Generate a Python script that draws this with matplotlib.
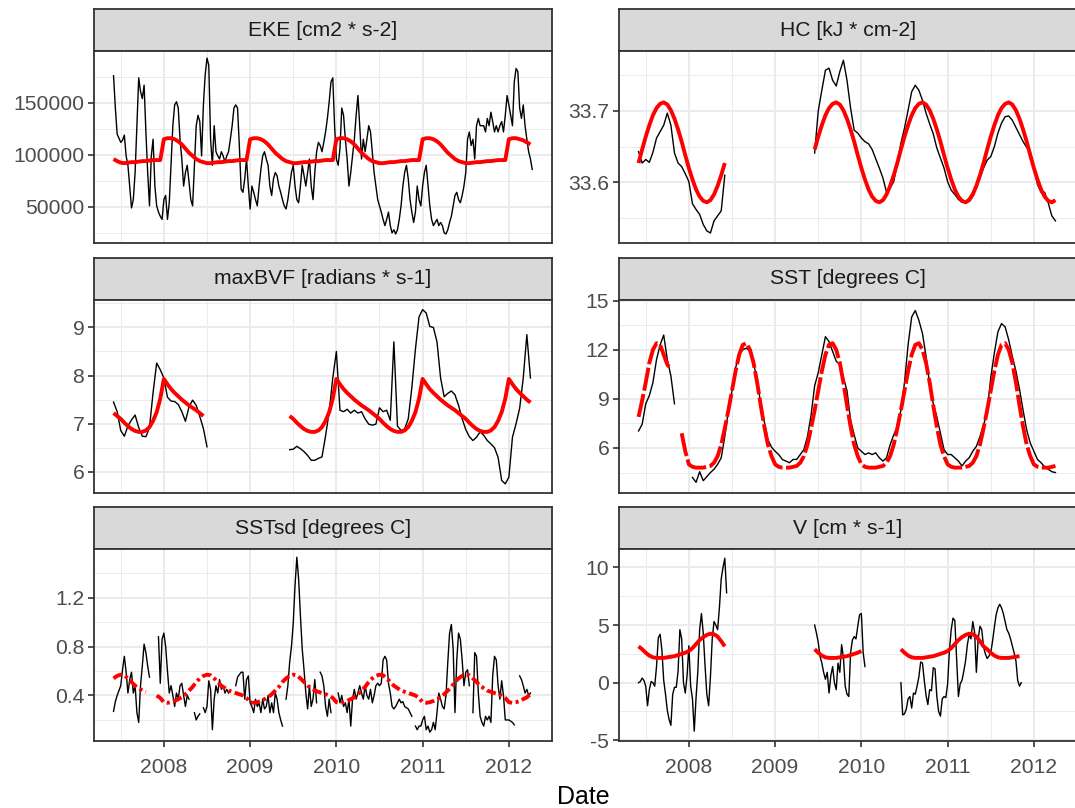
import numpy as np
import matplotlib.pyplot as plt

plt.rcParams['font.family'] = ['Liberation Sans', 'DejaVu Sans']
plt.rcParams['axes.unicode_minus'] = False

nan = np.nan
T0 = 2007 + 10 / 24  # first composite, early June 2007 (decimal year)

years = [2008, 2009, 2010, 2011, 2012]
half_years = [2007.5, 2008.5, 2009.5, 2010.5, 2011.5]

# ---------------------------------------------------------------------------
# EKE [cm2 * s-2]  (thousands) - weekly obs, half-monthly seasonal fit
eke_obs = [
    176, 145, 120, 116, 112, 114, 119, 99, 90, 70,
    49, 57, 83, 128, 174, 161, 154, 167, 122, 83,
    51, 99, 115, 70, 51, 45, 41, 38, 57, 61,
    38, 54, 90, 128, 148, 151, 145, 115, 96, 70,
    83, 90, 74, 57, 51, 90, 128, 138, 132, 99,
    148, 177, 193, 186, 115, 90, 128, 103, 99, 96,
    103, 99, 93, 99, 103, 115, 128, 145, 148, 145,
    109, 67, 64, 77, 96, 70, 48, 70, 64, 57,
    51, 70, 86, 99, 103, 96, 90, 70, 61, 77,
    83, 80, 70, 64, 57, 51, 48, 57, 70, 83,
    90, 70, 57, 54, 70, 90, 80, 70, 83, 96,
    70, 57, 83, 103, 112, 109, 103, 112, 122, 135,
    151, 170, 174, 128, 96, 90, 106, 145, 138, 115,
    96, 70, 83, 99, 115, 138, 157, 128, 96, 115,
    103, 115, 128, 122, 103, 83, 70, 57, 51, 45,
    38, 32, 38, 45, 32, 25, 28, 24, 28, 38,
    51, 70, 83, 90, 77, 57, 45, 35, 45, 70,
    57, 51, 70, 83, 90, 70, 51, 38, 32, 35,
    38, 32, 35, 32, 25, 24, 28, 35, 41, 51,
    61, 64, 57, 54, 61, 70, 83, 115, 122, 109,
    115, 96, 128, 135, 128, 128, 128, 122, 135, 128,
    141, 132, 122, 128, 122, 128, 132, 122, 138, 157,
    148, 138, 128, 170, 183, 180, 145, 135, 148, 128,
    115, 103, 96, 86,
]
eke_fit = [
    96, 94, 92.5, 92, 92.5, 93, 93, 93.5, 94, 94, 94.5, 95, 95, 95,
    115, 116, 116, 115, 113, 110, 106, 102, 99, 96, 94, 93,
    92, 92, 92.5, 93, 93, 93.5, 94, 94, 94.5, 95, 95, 95,
    115, 116, 116, 115, 113, 110, 106, 102, 99, 96, 94, 93,
    92, 92, 92.5, 93, 93, 93.5, 94, 94, 94.5, 95, 95, 95,
    115, 116, 116, 115, 113, 110, 106, 102, 99, 96, 94, 93,
    92, 92, 92.5, 93, 93, 93.5, 94, 94, 94.5, 95, 95, 95,
    115, 116, 116, 115, 113, 110, 106, 102, 99, 96, 94, 93,
    92, 92, 92.5, 93, 93, 93.5, 94, 94, 94.5, 95, 95, 95,
    115, 116, 116, 115, 114, 112, 110,
]

# HC [kJ * cm-2] - half-monthly
hc_obs = [
    33.643, 33.627, 33.632, 33.628, 33.642, 33.662, 33.671, 33.680, 33.697, 33.680,
    33.641, 33.627, 33.622, 33.612, 33.601, 33.570, 33.562, 33.555, 33.541, 33.532,
    33.529, 33.546, 33.553, 33.560, 33.610,
] + [nan] * 24 + [
    33.641, 33.700, 33.729, 33.757, 33.760, 33.743, 33.735, 33.755, 33.771, 33.743,
    33.704, 33.673, 33.669, 33.662, 33.657, 33.654, 33.646, 33.633, 33.620, 33.606,
    33.586, 33.592, 33.601, 33.627, 33.655, 33.676, 33.701, 33.727, 33.736, 33.729,
    33.715, 33.697, 33.682, 33.668, 33.648, 33.634, 33.620, 33.601, 33.589, 33.583,
    33.576, 33.572, 33.573, 33.578, 33.586, 33.594, 33.606, 33.620, 33.631, 33.636,
    33.650, 33.669, 33.683, 33.692, 33.693, 33.687, 33.677, 33.667, 33.657, 33.649,
    33.643, 33.622, 33.597, 33.586, 33.586, 33.571, 33.553, 33.546,
]
hc_fit = [
    33.627, 33.646, 33.664, 33.680, 33.694, 33.704, 33.710, 33.712, 33.709, 33.701,
    33.689, 33.674, 33.657, 33.638,
    33.620, 33.604, 33.590, 33.580, 33.574, 33.572, 33.575, 33.583, 33.595, 33.610,
    33.627,
] + [nan] * 24 + [
    33.646, 33.664, 33.680, 33.694, 33.704, 33.710, 33.712, 33.709, 33.701, 33.689,
    33.674, 33.657, 33.638,
    33.620, 33.604, 33.590, 33.580, 33.574, 33.572, 33.575, 33.583, 33.595, 33.610,
    33.627, 33.646, 33.664, 33.680, 33.694, 33.704, 33.710, 33.712, 33.709, 33.701,
    33.689, 33.674, 33.657, 33.638,
    33.620, 33.604, 33.590, 33.580, 33.574, 33.572, 33.575, 33.583, 33.595, 33.610,
    33.627, 33.646, 33.664, 33.680, 33.694, 33.704, 33.710, 33.712, 33.709, 33.701,
    33.689, 33.674, 33.657, 33.638,
    33.620, 33.604, 33.590, 33.580, 33.574, 33.572, 33.575,
]

# maxBVF [radians * s-1] - half-monthly
bvf_obs = [
    7.45, 7.25, 6.86, 6.74, 6.95, 7.08, 7.18, 6.92, 6.74, 6.73,
    6.92, 7.65, 8.26, 8.12, 7.95, 7.55, 7.47, 7.46, 7.40, 7.25,
    7.05, 7.35, 7.49, 7.38, 7.15, 6.90, 6.52,
] + [nan] * 22 + [
    6.46, 6.47, 6.53, 6.48, 6.42, 6.34, 6.24, 6.24, 6.28, 6.31,
    6.75, 7.25, 7.95, 8.50, 7.28, 7.25, 7.30, 7.22, 7.28, 7.22,
    7.25, 7.10, 6.99, 6.97, 6.99, 7.33, 7.25, 7.28, 7.07, 8.70,
    6.95, 6.86, 6.89, 7.10, 7.75, 8.55, 9.22, 9.37, 9.30, 9.02,
    9.00, 8.70, 7.95, 7.56, 7.63, 7.68, 7.60, 7.38, 7.10, 6.88,
    6.73, 6.65, 6.72, 6.83, 6.76, 6.65, 6.58, 6.50, 6.30, 5.82,
    5.75, 5.89, 6.72, 7.00, 7.32, 7.95, 8.85, 7.95,
]
bvf_fit = [
    7.22, 7.16, 7.10, 7.02, 6.95, 6.89, 6.85, 6.83, 6.83, 6.86, 6.93, 7.06, 7.24, 7.52,
    7.93, 7.82, 7.72, 7.64, 7.57, 7.50, 7.44, 7.38, 7.33, 7.28, 7.22, 7.16,
] + [nan] * 23 + [
    7.16, 7.10, 7.02, 6.95, 6.89, 6.85, 6.83, 6.83, 6.86, 6.93, 7.06, 7.24, 7.52,
    7.93, 7.82, 7.72, 7.64, 7.57, 7.50, 7.44, 7.38, 7.33, 7.28, 7.22, 7.16,
    7.10, 7.02, 6.95, 6.89, 6.85, 6.83, 6.83, 6.86, 6.93, 7.06, 7.24, 7.52,
    7.93, 7.82, 7.72, 7.64, 7.57, 7.50, 7.44, 7.38, 7.33, 7.28, 7.22, 7.16,
    7.10, 7.02, 6.95, 6.89, 6.85, 6.83, 6.83, 6.86, 6.93, 7.06, 7.24, 7.52,
    7.93, 7.82, 7.72, 7.64, 7.57, 7.50, 7.44,
]

# SST [degrees C] - half-monthly
sst_obs = [
    7.04, 7.45, 8.7, 9.2, 10.0, 11.4, 12.3, 12.9, 11.4, 10.4, 8.7,
    nan, nan, nan, nan,
    4.2, 3.9, 4.55, 4.0, 4.25, 4.5, 4.7, 5.0, 5.4, 6.7,
    8.3, 9.5, 10.9, 11.7, 12.0, 12.1, 11.9, 11.2, 10.1, 8.7,
    7.6, 6.5, 6.05, 5.8, 5.6, 5.3, 5.2, 5.1, 5.3, 5.3,
    5.6, 5.9, 6.7, 8.0, 9.8, 10.6, 11.7, 12.8, 12.5, 11.9,
    11.3, 11.1, 10.3, 9.5, 7.7, 6.8, 6.0, 5.8, 5.6, 5.7,
    5.6, 5.7, 5.4, 5.2, 5.4, 6.2, 6.8, 7.3, 8.3, 10.0,
    12.3, 14.0, 14.4, 13.8, 13.0, 11.6, 9.9, 8.7, 7.9, 6.9,
    5.9, 5.6, 5.6, 5.4, 5.2, 4.9, 5.2, 5.4, 5.8, 6.1,
    6.7, 7.4, 8.2, 10.3, 11.8, 13.1, 13.6, 13.4, 12.6, 11.6,
    10.7, 9.6, 8.3, 7.1, 6.3, 5.8, 5.3, 5.1, 4.85, 4.7, 4.55, 4.5,
]
sst_fit = [
    7.9, 8.9, 10.0, 11.2, 12.0, 12.4, 12.3, 11.7, 11.1, 10.8,
    nan, nan, 6.9, 5.8,
    5.0, 4.85, 4.8, 4.8, 4.8, 4.85, 4.9, 5.1, 5.5, 6.2, 7.2, 8.3,
    9.5, 10.7, 11.7, 12.3, 12.4, 12.0, 11.2, 10.0, 8.6, 7.3, 6.2, 5.5,
    5.0, 4.85, 4.8, 4.8, 4.8, 4.85, 4.9, 5.1, 5.5, 6.2, 7.2, 8.3,
    9.5, 10.7, 11.7, 12.3, 12.4, 12.0, 11.2, 10.0, 8.6, 7.3, 6.2, 5.5,
    5.0, 4.85, 4.8, 4.8, 4.8, 4.85, 4.9, 5.1, 5.5, 6.2, 7.2, 8.3,
    9.5, 10.7, 11.7, 12.3, 12.4, 12.0, 11.2, 10.0, 8.6, 7.3, 6.2, 5.5,
    5.0, 4.85, 4.8, 4.8, 4.8, 4.85, 4.9, 5.1, 5.5, 6.2, 7.2, 8.3,
    9.5, 10.7, 11.7, 12.3, 12.4, 12.0, 11.2, 10.0, 8.6, 7.3, 6.2, 5.5,
    5.0, 4.85, 4.8, 4.8, 4.8, 4.85, 4.9,
]

# SSTsd [degrees C] - weekly obs, half-monthly fit
sstsd_obs = [
    .27, .35, .40, .44, .48, .61, .72, .59, .42, .53,
    .59, .42, .48, .26, .18, .48, .64, .82, .75, .64,
    .55, nan, nan, nan, nan, .88, .50, .86, .91, .80,
    .60, .42, .48, .40, .31, .42, .37, .48, .50, .40,
    .31, .40, .37, nan, nan, .26, .20, .23, .25, nan,
    .30, .26, .31, .52, .45, .12, .37, .48, .42, .53,
    .45, .48, .42, .45, .42, nan, nan, nan, .48, .55,
    .57, .59, .59, .37, .53, .56, .34, .31, .26, .37,
    .31, .34, .26, .37, .29, .31, .40, .26, .34, .26,
    .42, .37, .26, .20, .15, nan, .37, .48, .67, .80,
    .99, 1.30, 1.53, 1.35, 1.05, .78, .61, .42, .29, .48,
    .31, .37, .53, .34, nan, .59, .56, .48, .31, .23,
    .37, .26, nan, nan, nan, .42, .34, .40, .31, .34,
    .26, .37, .15, .37, .45, .37, .42, .48, .42, .37,
    .48, .40, .37, .45, .34, .40, .48, .50, .48, .50,
    .69, .72, .69, .50, .42, .31, .29, .31, .34, .37,
    .34, .35, .31, .30, .29, .26, .23, nan, .15, .12,
    .15, .15, .20, .23, .12, .15, .10, .12, .18, .12,
    .26, .42, .37, .31, .29, .40, .67, .91, .98, .78,
    .26, .69, .91, .86, .69, .48, .59, .61, .48, nan,
    .26, .75, .72, .42, .23, .18, .15, .23, .20, .23,
    .18, .56, .72, .69, .48, .37, .52, .40, .20, .20,
    .20, .19, .18, .16, nan, nan, .56, .53, .48, .42,
    .45, .40, .42,
]
sstsd_fit = [
    .54, .56, .57, .565, .54, .51, .48, .46, .44, .43,
    nan, nan, .40, .38,
    .345, .34, .345, .355, .37, .385, .41, .44, .47, .51, .54, .56,
    .57, .565, .54, .51, .48, .46, .44, .43, .42, .41, .40, .38,
    .345, .34, .345, .355, .37, .385, .41, .44, .47, .51, .54, .56,
    .57, .565, .54, .51, .48, .46, .44, .43, .42, .41, .40, .38,
    .345, .34, .345, .355, .37, .385, .41, .44, .47, .51, .54, .56,
    .57, .565, .54, .51, .48, .46, .44, .43, .42, .41, .40, .38,
    .345, .34, .345, .355, .37, .385, .41, .44, .47, .51, .54, .56,
    .57, .565, .54, .51, .48, .46, .44, .43, .42, .41, .40, .38,
    .345, .34, .345, .355, .37, .385, .41,
]

# V [cm * s-1] - weekly obs, half-monthly fit
v_obs = [
    0.0, 0.1, 0.4, 0.2, -0.3, -2.0, -0.6, 0.1, 0.0, -0.3,
    1.4, 3.9, 4.2, 2.8, 0.2, -1.0, -2.4, -3.2, -3.7, -1.0,
    -0.4, -0.4, 1.0, 4.6, 3.8, 0.0, -0.9, 0.6, 3.2, -0.3,
    -1.4, -4.2, -1.3, 1.0, 4.6, 6.0, 4.3, 1.5, -1.0, -2.0,
    0.5, 3.8, 5.3, 5.0, 4.6, 6.5, 9.0, 10.0, 10.8, 7.8,
] + [nan] * 48 + [
    5.0, 4.3, 3.5, 2.3, 1.7, 0.9, 0.3, 0.9, -0.9, 0.6,
    1.4, 0.0, -0.6, 1.7, 0.9, 3.3, 2.2, -0.3, -1.0, -1.2,
    2.6, 3.7, 4.0, 3.8, 4.9, 5.9, 6.0, 2.6, 1.4,
] + [nan] * 19 + [
    0.0, -2.8, -2.7, -2.3, -1.4, -1.2, -2.2, -0.9, -1.0, -0.3,
    0.5, 1.8, 1.7, 0.2, -1.1, -1.9, -0.6, -0.7, 1.3, 1.2,
    -1.2, -2.5, -2.9, -1.4, -1.2, -1.3, -0.1, 2.8, 4.6, 5.6,
    5.4, 2.0, -1.2, -0.1, 0.2, 1.0, 1.9, 3.3, 4.2, 3.8,
    5.3, 4.4, 0.9, 3.8, 4.9, 4.6, 3.1, 2.5, 2.1, 2.3,
    2.6, 3.6, 4.8, 5.9, 6.5, 6.8, 6.5, 6.0, 5.3, 4.6,
    4.3, 3.8, 3.2, 2.6, 1.9, 0.2, -0.3, 0.0,
]
v_fit = [
    3.15, 2.9, 2.6, 2.35, 2.2, 2.15, 2.15, 2.15, 2.2, 2.25, 2.3, 2.4, 2.5, 2.6,
    2.75, 3.0, 3.35, 3.7, 3.95, 4.15, 4.25, 4.2, 4.0, 3.6, 3.15,
] + [nan] * 24 + [
    2.9, 2.6, 2.35, 2.2, 2.15, 2.15, 2.15, 2.2, 2.25, 2.3, 2.4, 2.5, 2.6,
    2.75,
] + [nan] * 10 + [
    2.9, 2.6, 2.35, 2.2, 2.15, 2.15, 2.15, 2.2, 2.25, 2.3, 2.4, 2.5, 2.6,
    2.75, 3.0, 3.35, 3.7, 3.95, 4.15, 4.25, 4.2, 4.0, 3.6, 3.15,
    2.9, 2.6, 2.35, 2.2, 2.15, 2.15, 2.15, 2.2, 2.25, 2.3,
] + [nan] * 10

# facet titles and axis scales
titles = ['EKE [cm2 * s-2]', 'HC [kJ * cm-2]', 'maxBVF [radians * s-1]',
          'SST [degrees C]', 'SSTsd [degrees C]', 'V [cm * s-1]']
ylims = [(15300, 199800), (33.515, 33.784), (5.56, 9.57),
         (3.25, 15.04), (0.028, 1.597), (-5.06, 11.6)]
yticks = [[50000, 100000, 150000], [33.6, 33.7], [6, 7, 8, 9],
          [6, 9, 12, 15], [0.4, 0.8, 1.2], [-5, 0, 5, 10]]
yminor = [[25000, 75000, 125000, 175000], [33.55, 33.65, 33.75],
          [6.5, 7.5, 8.5, 9.5], [4.5, 7.5, 10.5, 13.5],
          [0.2, 0.6, 1.0, 1.4], [-2.5, 2.5, 7.5]]


def make_chart():
    obs = [(np.array(eke_obs) * 1000, 48), (np.array(hc_obs), 24),
           (np.array(bvf_obs), 24), (np.array(sst_obs), 24),
           (np.array(sstsd_obs), 48), (np.array(v_obs), 48)]
    fits = [np.array(eke_fit) * 1000, np.array(hc_fit), np.array(bvf_fit),
            np.array(sst_fit), np.array(sstsd_fit), np.array(v_fit)]
    # weekly gaps break the SST / SSTsd fits into pieces
    fit_style = ['-', '-', '-', (0, (6, 0.9)), (0, (2.4, 0.9, 0.8, 0.9)), '-']

    W, H = 1075, 808
    fig = plt.figure(figsize=(W / 100, H / 100), dpi=100)

    def frac(x0, y0, x1, y1):
        return [x0 / W, 1 - y1 / H, (x1 - x0) / W, (y1 - y0) / H]

    cols = [(94, 552), (619, 1077)]
    rows = [(9, 51, 243), (258, 300, 493), (507, 549, 741)]
    edge = '#333333'

    for i, title in enumerate(titles):
        r, c = divmod(i, 2)
        x0, x1 = cols[c]
        s_top, s_bot, p_bot = rows[r]

        # strip
        sx = fig.add_axes(frac(x0, s_top, x1, s_bot))
        sx.set_facecolor('#D9D9D9')
        sx.set_xticks([])
        sx.set_yticks([])
        for s in sx.spines.values():
            s.set_color(edge)
            s.set_linewidth(1.3)
        sx.text(0.5, 0.5, title, ha='center', va='center', fontsize=15.2,
                color='#1A1A1A', transform=sx.transAxes)

        # panel
        ax = fig.add_axes(frac(x0, s_bot, x1, p_bot))
        vals, per_year = obs[i]
        t_obs = T0 + np.arange(len(vals)) / per_year
        t_fit = T0 + np.arange(len(fits[i])) / 24
        ax.plot(t_obs, vals, color='black', lw=1.0, zorder=3,
                solid_joinstyle='round')
        ax.plot(t_fit, fits[i], color='red', lw=2.8, ls=fit_style[i],
                zorder=4, solid_capstyle='butt', solid_joinstyle='round')

        ax.set_xlim(2007.19, 2012.50)
        ax.set_ylim(*ylims[i])
        ax.set_xticks(years, labels=[str(y) for y in years])
        ax.set_xticks(half_years, minor=True)
        ax.set_yticks(yticks[i], labels=['{:g}'.format(v) for v in yticks[i]])
        ax.set_yticks(yminor[i], minor=True)
        ax.grid(which='major', color='#EBEBEB', lw=1.4)
        ax.grid(which='minor', color='#EBEBEB', lw=0.7)
        ax.set_axisbelow(True)
        ax.tick_params(which='minor', length=0)
        ax.tick_params(which='major', length=4, width=1.2, color=edge,
                       labelsize=15.2, labelcolor='#4D4D4D')
        ax.tick_params(axis='y', pad=3)
        ax.tick_params(axis='x', pad=8)
        if r < 2:
            ax.tick_params(axis='x', bottom=False, labelbottom=False)
        for s in ax.spines.values():
            s.set_color(edge)
            s.set_linewidth(1.3)
            s.set_zorder(5)

    fig.text(583 / W, 1 - 797 / H, 'Date', ha='center', va='center',
             fontsize=18, color='black')
    fig.savefig('out.png', dpi=100)


if __name__ == '__main__':
    make_chart()
